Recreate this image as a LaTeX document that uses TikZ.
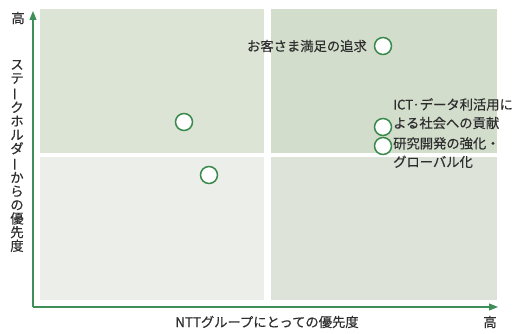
\documentclass[tikz,border=0pt]{standalone}
\usepackage{fontspec}
\setmainfont{Noto Sans CJK JP}[FakeBold=0.4]
\usetikzlibrary{arrows.meta}
\definecolor{qTL}{HTML}{DCE4D6}
\definecolor{qTR}{HTML}{D3DDCC}
\definecolor{qBL}{HTML}{ECEFE9}
\definecolor{qBR}{HTML}{DDE3D8}
\definecolor{axisgreen}{HTML}{3F8F58}
\definecolor{circgreen}{HTML}{3A8A4C}
\definecolor{txt}{HTML}{2E2E2E}
\tikzset{
  quad/.style={draw=none},
  item/.style={circle, draw=circgreen, line width=1.5pt, fill=white, minimum size=17pt, inner sep=0pt},
  lbl/.style={font=\fontsize{13.3}{18.5}\selectfont, text=txt, inner sep=0pt},
  axisline/.style={draw=axisgreen, line width=1.1pt, -{Triangle[length=9pt,width=7pt]}},
}
\begin{document}
\begin{tikzpicture}[x=1pt,y=-1pt]
\useasboundingbox (0,0) rectangle (517,334);
% quadrants
\fill[qTL] (40,9) rectangle (264,153);
\fill[qTR] (271,9) rectangle (497,153);
\fill[qBL] (40,157) rectangle (264,300);
\fill[qBR] (271,157) rectangle (497,300);
% axes
\coordinate (origin) at (33,307);
\coordinate (ytip) at (33,11);
\coordinate (xtip) at (498,307);
\draw[axisline] (origin) -- (ytip);
\draw[axisline] (origin) -- (xtip);
% axis labels
\node[lbl] (yhigh) at (18,18) {高};
\node[lbl] (xhigh) at (490,322) {高};
\node[lbl] (xlabel) at (267,322) {NTTグループにとっての優先度};
\node[lbl, align=center, font=\fontsize{13.3}{13.7}\selectfont] (ylabel) at (17,156)
  {ス\\テ\\\rotatebox[origin=c]{90}{ー}\\ク\\ホ\\ル\\ダ\\\rotatebox[origin=c]{90}{ー}\\か\\ら\\の\\優\\先\\度};
% items
\node[item] (c1) at (184,122) {};
\node[item] (c2) at (209,175) {};
\node[item] (c3) at (383,46) {};
\node[item] (c4) at (383,127) {};
\node[item] (c5) at (383,146) {};
% item labels
\node[lbl, anchor=east] (t3) at (367,46) {お客さま満足の追求};
\node[lbl, anchor=north west, align=left] (t4) at (393,98) {ICT·データ利活用に\\よる社会への貢献};
\node[lbl, anchor=north west, align=left] (t5) at (393,137) {研究開発の強化・\\グローバル化};
\end{tikzpicture}
\end{document}
